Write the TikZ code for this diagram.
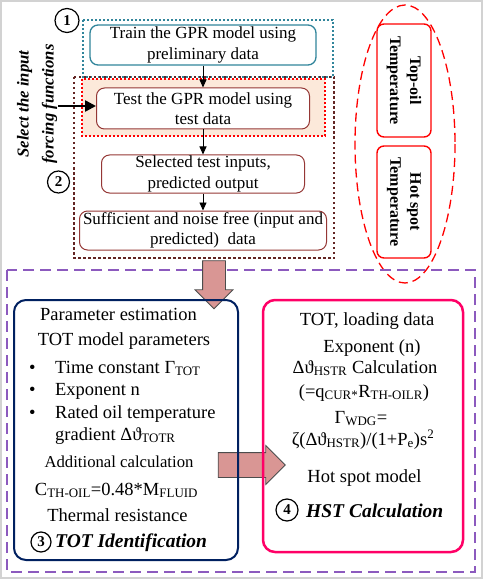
\documentclass[tikz,border=0pt]{standalone}
\usepackage{fontspec}
\setmainfont{Liberation Serif}
\usetikzlibrary{arrows.meta, shapes.arrows, positioning}

\definecolor{tealline}{RGB}{49,133,155}
\definecolor{brickline}{RGB}{149,55,53}
\definecolor{darkbrick}{RGB}{99,37,35}
\definecolor{peach}{RGB}{252,233,218}
\definecolor{lavender}{RGB}{140,90,190}
\definecolor{navyline}{RGB}{0,32,96}
\definecolor{hotpink}{RGB}{255,0,102}
\definecolor{arrowfill}{RGB}{217,150,148}

\begin{document}
\begin{tikzpicture}[x=1pt, y=-1pt,
    gprbox/.style={draw=brickline, line width=1pt, rounded corners=8pt, fill=white, align=center, inner sep=0pt, font=\fontsize{17}{20.5}\selectfont},
    tempbox/.style={draw=red, line width=1.4pt, rounded corners=7pt, fill=white, align=center, inner sep=0pt, font=\bfseries\fontsize{16}{20}\selectfont},
    numcircle/.style={circle, draw, line width=1.2pt, inner sep=0pt, font=\bfseries\fontsize{15}{15}\selectfont},
    bodytext/.style={inner sep=0pt, font=\fontsize{18.5}{22}\selectfont},
    headtext/.style={inner sep=0pt, anchor=base west, font=\bfseries\itshape\fontsize{19.5}{22}\selectfont},
    blockarrow/.style={single arrow, draw=black!70, line width=0.8pt, fill=arrowfill, inner xsep=0pt, single arrow head indent=0pt},
    smallarrow/.style={line width=0.9pt, -{Triangle[length=8pt,width=7pt]}}]
  \useasboundingbox (0,0) rectangle (484,580);
  \draw[gray!35, line width=1.5pt] (1,1) rectangle (482,578);

  % step 1 and 2 frames
  \draw[tealline, line width=1.3pt, dash pattern=on 2pt off 2pt] (83,20) rectangle (333,77);
  \draw[red, fill=peach, line width=1.2pt, dash pattern=on 2pt off 2pt] (82,79) rectangle (325,136);
  \draw[darkbrick, line width=2.5pt, dash pattern=on 2.5pt off 2.5pt] (74,77) rectangle (334,258);

  \node[gprbox, draw=tealline, line width=1.3pt, minimum width=226pt, minimum height=40pt] (train) at (203,45) {Train the GPR model using\\preliminary data};
  \node[gprbox, minimum width=213pt, minimum height=41pt] (test) at (203,108.5) {Test the GPR model using\\test data};
  \node[gprbox, minimum width=203pt, minimum height=38pt] (selected) at (203,174) {Selected test inputs,\\predicted output};
  \node[gprbox, minimum width=247pt, minimum height=39pt] (sufficient) at (203,230.5) {Sufficient and noise free (input and\\predicted)\ \ data};

  \draw[smallarrow] (train) -- (test);
  \draw[smallarrow] (test) -- (selected);
  \draw[smallarrow] (selected) -- (sufficient);

  \node[numcircle, minimum size=24pt] (one) at (67,20.5) {1};
  \node[numcircle, minimum size=22pt] (two) at (58.5,182) {2};

  \node[rotate=90, align=center, inner sep=0pt, font=\bfseries\itshape\fontsize{16.7}{25}\selectfont] (forcing) at (37,104) {Select the input\\forcing functions};
  \coordinate (feed) at (58,106);
  \draw[line width=2.5pt, -{Triangle[length=11pt,width=11pt]}] (feed) -- (test.west |- feed);

  % outputs
  \draw[red, line width=1.3pt, dash pattern=on 9pt off 5pt] (405,144) ellipse [x radius=50, y radius=139];
  \node[tempbox, rotate=-90, minimum width=113pt, minimum height=54pt] (topoil) at (404,80.5) {Top-oil\\Temperature};
  \node[tempbox, rotate=-90, minimum width=112pt, minimum height=54pt] (hotspot) at (404,202) {Hot spot\\Temperature};

  % step 3 and 4
  \draw[lavender, line width=1.4pt, dash pattern=on 11pt off 6pt] (7,270) rectangle (475,572);
  \node[blockarrow, rotate=-90, minimum height=48pt, inner ysep=11pt, single arrow head extend=7.5pt] (down) at (214,279) {};
  \node[blockarrow, minimum height=67pt, inner ysep=12pt, single arrow head extend=7pt] (across) at (245.5,465) {};

  \node[draw=navyline, line width=2pt, rounded corners=12pt, minimum width=224pt, minimum height=260pt] (tot) at (126,430) {};
  \node[draw=hotpink, line width=2.5pt, rounded corners=12pt, minimum width=200pt, minimum height=252pt] (hst) at (363,426) {};

  \node[bodytext, anchor=base] (estim) at (118.5,320) {Parameter estimation};
  \node[bodytext, anchor=base] (params) at (124,345) {TOT model parameters};
  \node[bodytext, anchor=base west] (itemA) at (29,373) {\makebox[26pt][l]{\textbullet}Time constant Γ\textsubscript{TOT}};
  \node[bodytext, anchor=base west] (itemB) at (29,395) {\makebox[26pt][l]{\textbullet}Exponent n};
  \node[bodytext, anchor=base west] (itemC) at (29,418) {\makebox[26pt][l]{\textbullet}Rated oil temperature};
  \node[bodytext, anchor=base west] (itemD) at (55,440) {gradient Δϑ\textsubscript{TOTR}};
  \node[bodytext, anchor=base, font=\fontsize{16.7}{20}\selectfont] (extra) at (119,467) {Additional calculation};
  \node[bodytext, anchor=base] (capac) at (116.5,495) {C\textsubscript{TH-OIL}=0.48*M\textsubscript{FLUID}};
  \node[bodytext, anchor=base] (resist) at (117.5,521) {Thermal resistance};
  \node[numcircle, minimum size=20pt] (three) at (41,542) {3};
  \node[headtext] (totid) at (55,547) {TOT Identification};

  \node[bodytext, anchor=base] (load) at (367,325) {TOT, loading data};
  \node[bodytext, anchor=base] (expo) at (372,352) {Exponent (n)};
  \node[bodytext, anchor=base] (gradcalc) at (365,373) {Δϑ\textsubscript{HSTR} Calculation};
  \node[bodytext, anchor=base] (gradeq) at (364,397) {(=q\textsubscript{CUR*}R\textsubscript{TH-OILR})};
  \node[bodytext, anchor=base] (wdg) at (361,423) {Γ\textsubscript{WDG}=};
  \node[bodytext, anchor=base] (wdgeq) at (363,445) {ζ(Δϑ\textsubscript{HSTR})/(1+P\textsubscript{e})s\textsuperscript{2}};
  \node[bodytext, anchor=base] (hsmodel) at (364.5,482) {Hot spot model};
  \node[numcircle, minimum size=22pt] (four) at (287,510) {4};
  \node[headtext] (hstcalc) at (306,517) {HST Calculation};
\end{tikzpicture}
\end{document}
